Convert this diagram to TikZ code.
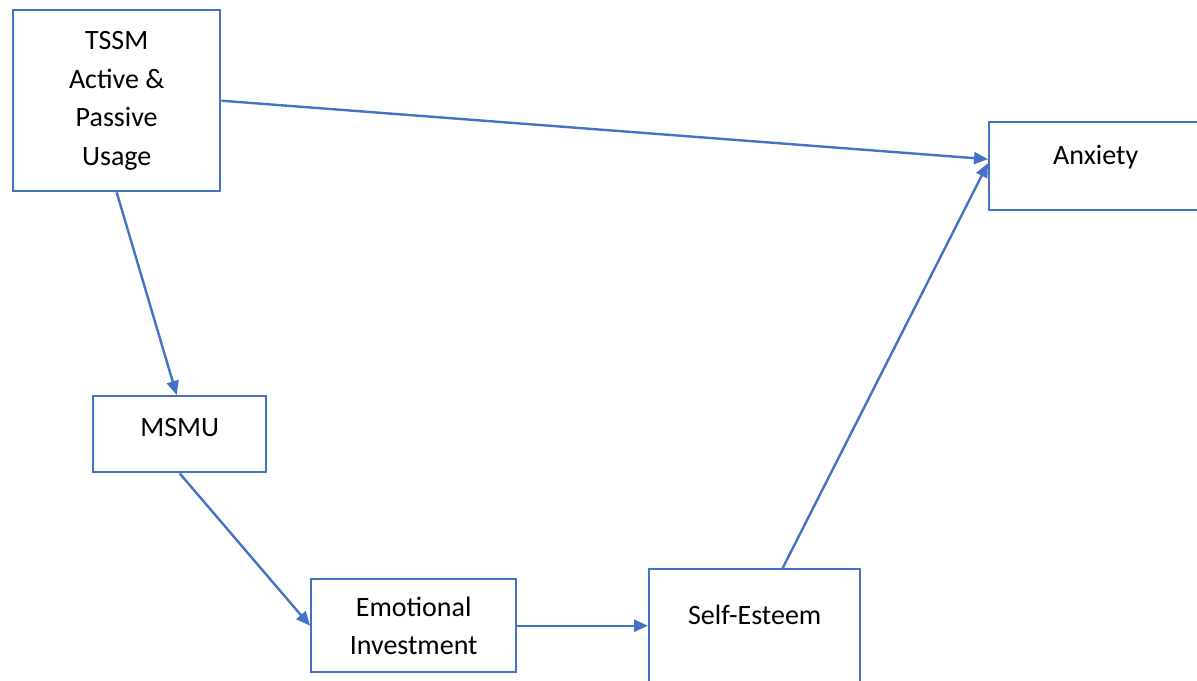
\documentclass[tikz,border=0pt]{standalone}
\usepackage{fontspec}
\setmainfont{Carlito}
\usetikzlibrary{arrows.meta}
\definecolor{boxblue}{HTML}{4472C4}
\begin{document}
\begin{tikzpicture}[x=0.5pt,y=-0.5pt,line width=1.2pt,
  box/.style={draw=boxblue,rectangle,anchor=north west,inner sep=0pt,align=center,
    font=\fontsize{14pt}{19.25pt}\selectfont},
  seta/.style={draw=boxblue,-{Triangle[length=7pt,width=6pt]}}]
  \useasboundingbox (0,0) rectangle (1197,680);
  %caixas
  \node[box,minimum width=103.5pt,minimum height=90.5pt] (tssm) at (12,9) {TSSM\\Active \&\\Passive\\Usage};
  \node[box,text width=106.5pt,text height=21pt,text depth=23pt] (anx) at (988,121) {Anxiety};
  \node[box,text width=86.5pt,text height=20pt,text depth=18pt] (msmu) at (92,395) {MSMU};
  \node[box,minimum width=102.5pt,minimum height=46.5pt] (emo) at (310,578) {Emotional\\Investment};
  \node[box,text width=105.5pt,text height=27.5pt,text depth=38.5pt] (self) at (648,568) {Self-Esteem};
  %setas
  \draw[seta] (tssm.east) -- ([yshift=3.5pt]anx.west);
  \draw[seta] (tssm.south) -- ([xshift=-1.5pt]msmu.north);
  \draw[seta] (msmu.south) -- (emo.west);
  \draw[seta] (emo.east) -- (emo.east -| self.west);
  \draw[seta] ([xshift=14pt]self.north) -- ([yshift=1.5pt]anx.west);
\end{tikzpicture}
\end{document}
